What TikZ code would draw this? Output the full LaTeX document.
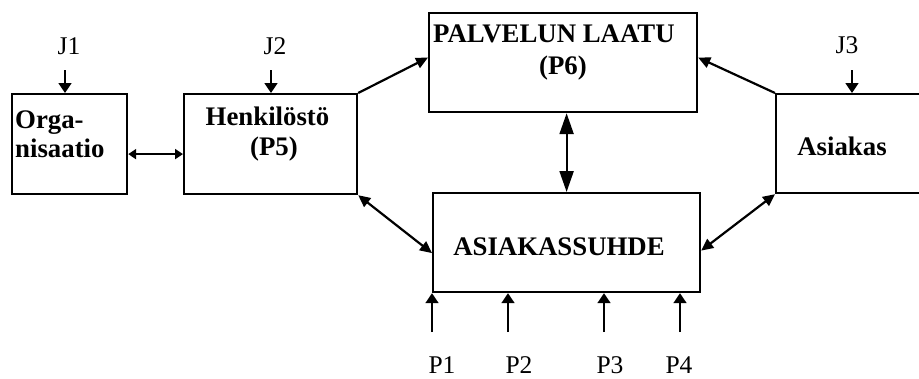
\documentclass[tikz,border=0pt]{standalone}
\usepackage{fontspec}
\setmainfont{Liberation Serif}
\usetikzlibrary{arrows.meta}
\begin{document}
\begin{tikzpicture}[x=1pt,y=-1pt,
  box/.style={draw, line width=2.2pt, inner sep=0pt, anchor=north west},
  lbl/.style={font=\fontsize{26.8}{30}\selectfont\bfseries, inner sep=0pt},
  tag/.style={font=\fontsize{25.5}{30}\selectfont, inner sep=0pt, anchor=base},
  smalltip/.tip={Triangle[length=10pt,width=13pt]},
  midtip/.tip={Triangle[length=12pt,width=11pt]},
  bigtip/.tip={Triangle[length=21pt,width=14pt]},
  flattip/.tip={Triangle[length=8pt,width=10pt]},
  wire/.style={line width=2.2pt},
  feed/.style={line width=1.8pt, -smalltip},
]
\useasboundingbox (0,0) rectangle (919,378);

% boxes
\node[box, minimum width=115pt, minimum height=100pt] (org)   at (11,93)  {};
\node[box, minimum width=173pt, minimum height=100pt] (henk)  at (183,93) {};
\node[box, minimum width=268pt, minimum height=99pt]  (palv)  at (428,12) {};
\node[box, minimum width=267pt, minimum height=99pt]  (suhde) at (432,192) {};
\node[box, minimum width=160pt, minimum height=99pt]  (asiak) at (775,93) {};

% box texts
\node[lbl, anchor=base west] (t-org1) at (15,128) {Orga-};
\node[lbl, anchor=base west] (t-org2) at (15,157) {nisaatio};
\node[lbl, anchor=base] (t-henk1) at (267.5,125) {Henkilöstö};
\node[lbl, anchor=base] (t-henk2) at (274,155) {(P5)};
\node[lbl, anchor=base west] (t-palv1) at (433,42) {PALVELUN LAATU};
\node[lbl, anchor=base] (t-palv2) at (563,74) {(P6)};
\node[lbl, anchor=base] (t-suhde) at (559,255) {ASIAKASSUHDE};
\node[lbl, anchor=base] (t-asiak) at (842,155) {Asiakas};

% external inputs J1-J3
\coordinate (j1) at (65,70);
\coordinate (j2) at (271,70);
\coordinate (j3) at (852,70);
\node[tag] (lj1) at (69,54) {J1};
\node[tag] (lj2) at (275,54) {J2};
\node[tag] (lj3) at (847,53) {J3};
\draw[feed] (j1) -- (j1 |- org.north);
\draw[feed] (j2) -- (j2 |- henk.north);
\draw[feed] (j3) -- (j3 |- asiak.north);

% inputs P1-P4
\coordinate (p1) at (432,332);
\coordinate (p2) at (508,332);
\coordinate (p3) at (604,332);
\coordinate (p4) at (680,332);
\node[tag] (lp1) at (442,373) {P1};
\node[tag] (lp2) at (519,373) {P2};
\node[tag] (lp3) at (610,373) {P3};
\node[tag] (lp4) at (679,373) {P4};
\draw[feed] (p1) -- (p1 |- suhde.south);
\draw[feed] (p2) -- (p2 |- suhde.south);
\draw[feed] (p3) -- (p3 |- suhde.south);
\draw[feed] (p4) -- (p4 |- suhde.south);

% connections between boxes
\draw[wire, flattip-flattip]
  ([yshift=-10pt]org.east) -- ([yshift=-10pt]org.east -| henk.west);
\draw[wire, -midtip] (henk.north east) -- ([yshift=5pt]palv.west);
\draw[wire, -midtip] (asiak.north west) -- ([yshift=5pt]palv.east);
\draw[wire, bigtip-bigtip] (suhde.north |- palv.south) -- (suhde.north);
\draw[wire, midtip-midtip] (henk.south east) -- ([yshift=-10.5pt]suhde.west);
\draw[wire, midtip-midtip] (asiak.south west) -- ([yshift=-8pt]suhde.east);
\end{tikzpicture}
\end{document}
